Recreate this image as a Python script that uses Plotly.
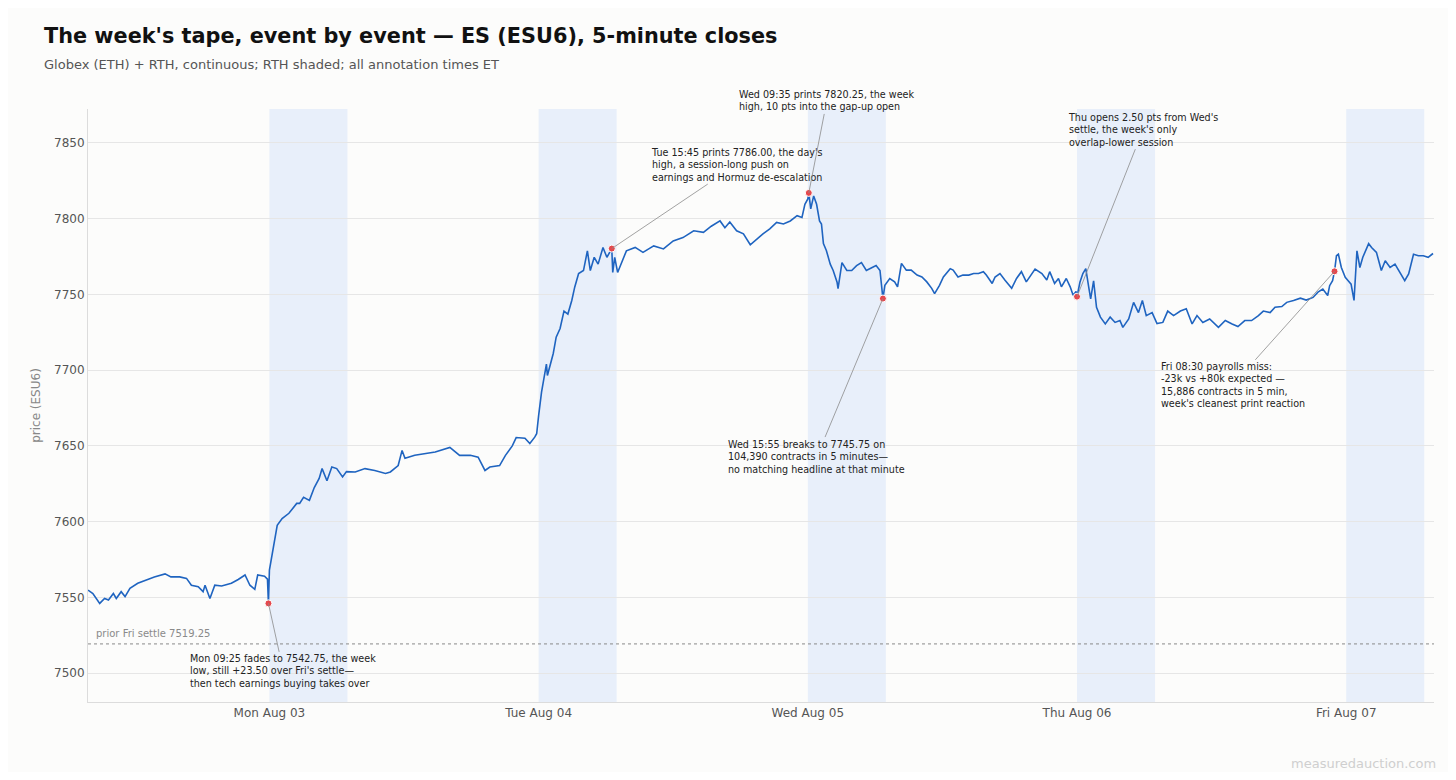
import plotly.graph_objects as go

YEAR = "2026-"

mon_t = ["08-02 18:00", "08-02 18:25", "08-02 19:00", "08-02 19:25", "08-02 19:45", "08-02 20:10",
         "08-02 20:25", "08-02 20:50", "08-02 21:10", "08-02 21:35", "08-02 22:15", "08-02 23:00",
         "08-02 23:40", "08-03 00:35", "08-03 01:05", "08-03 01:50", "08-03 02:25", "08-03 02:50",
         "08-03 03:25", "08-03 03:50", "08-03 04:00", "08-03 04:25", "08-03 04:50", "08-03 05:25",
         "08-03 06:15", "08-03 06:50", "08-03 07:25", "08-03 07:50", "08-03 08:15", "08-03 08:30",
         "08-03 09:05", "08-03 09:20",
         "08-03 09:25", "08-03 09:30", "08-03 09:40", "08-03 09:55",
         "08-03 10:10", "08-03 10:35", "08-03 11:10", "08-03 11:50", "08-03 12:05", "08-03 12:25",
         "08-03 12:55", "08-03 13:20", "08-03 13:45", "08-03 14:00", "08-03 14:25", "08-03 14:50",
         "08-03 15:15", "08-03 15:45", "08-03 16:05", "08-03 16:50"]
mon_c = [7554.75, 7552.5, 7546.0, 7549.25, 7548.25, 7552.5,
         7549.25, 7553.75, 7550.5, 7556.0, 7559.25, 7561.5,
         7563.5, 7565.5, 7563.5, 7563.5, 7562.5, 7558.0,
         7557.0, 7553.75, 7558.0, 7549.25, 7558.0, 7557.5,
         7559.25, 7561.75, 7564.75, 7558.0, 7555.25, 7564.75,
         7564.0, 7562.0,
         7546.0, 7568.0, 7575.75, 7587.75,
         7597.5, 7602.0, 7605.5, 7612.0, 7612.0, 7616.0,
         7614.0, 7622.5, 7628.5, 7635.0, 7627.0, 7636.0,
         7635.0, 7629.5, 7633.0, 7632.75]

tue_t = ["08-03 18:40", "08-03 19:30", "08-03 20:25", "08-03 20:50", "08-03 21:30", "08-03 21:50",
         "08-03 22:05", "08-03 22:55", "08-03 23:45", "08-04 00:40", "08-04 01:55", "08-04 02:45",
         "08-04 03:40", "08-04 04:20", "08-04 04:55", "08-04 05:20", "08-04 06:10", "08-04 06:40",
         "08-04 07:15", "08-04 07:35", "08-04 08:20", "08-04 08:45", "08-04 09:10", "08-04 09:20",
         "08-04 09:30", "08-04 09:45", "08-04 10:10", "08-04 10:15", "08-04 10:45", "08-04 11:00",
         "08-04 11:20", "08-04 11:40", "08-04 12:00", "08-04 12:20", "08-04 12:35", "08-04 12:55",
         "08-04 13:20", "08-04 13:40", "08-04 13:55", "08-04 14:15", "08-04 14:35", "08-04 15:00",
         "08-04 15:20", "08-04 15:45", "08-04 15:50", "08-04 16:00", "08-04 16:15", "08-04 16:35"]
tue_c = [7635.0, 7633.75, 7631.75, 7632.75, 7637.0, 7647.0,
         7641.75, 7643.75, 7645.0, 7646.0, 7649.0, 7643.75,
         7643.75, 7642.5, 7633.75, 7636.0, 7637.0, 7643.75,
         7650.0, 7655.5, 7655.0, 7651.5, 7655.75, 7658.0,
         7670.0, 7685.5, 7704.0, 7696.5, 7711.0, 7721.75,
         7727.5, 7739.0, 7737.0, 7746.0, 7754.75, 7763.75,
         7765.75, 7778.75, 7765.75, 7774.5, 7770.0, 7781.0,
         7774.5, 7780.25, 7764.5, 7774.5, 7764.5, 7771.0]

wed_t = ["08-04 18:00", "08-04 18:45", "08-04 19:25", "08-04 20:20", "08-04 21:10", "08-04 22:00",
         "08-04 22:50", "08-04 23:45", "08-05 00:35", "08-05 01:15", "08-05 02:00", "08-05 02:25",
         "08-05 02:50", "08-05 03:25", "08-05 04:00", "08-05 04:35", "08-05 05:10", "08-05 05:40",
         "08-05 06:15", "08-05 06:50", "08-05 07:25", "08-05 08:00", "08-05 08:35", "08-05 09:00",
         "08-05 09:15", "08-05 09:30", "08-05 09:35", "08-05 09:45", "08-05 10:00", "08-05 10:15",
         "08-05 10:30", "08-05 10:40", "08-05 10:50", "08-05 11:05", "08-05 11:25", "08-05 11:40",
         "08-05 12:00", "08-05 12:05", "08-05 12:25", "08-05 12:50", "08-05 13:15", "08-05 13:40",
         "08-05 14:05", "08-05 14:30", "08-05 15:00", "08-05 15:20", "08-05 15:40", "08-05 15:50",
         "08-05 15:55", "08-05 16:05", "08-05 16:30", "08-05 16:55"]
wed_c = [7778.75, 7781.0, 7777.75, 7782.0, 7780.0, 7785.25,
         7787.5, 7792.0, 7791.0, 7795.0, 7798.5, 7794.0,
         7797.75, 7792.0, 7790.0, 7782.75, 7786.75, 7790.0,
         7793.25, 7797.5, 7796.5, 7798.5, 7802.0, 7800.75,
         7809.5, 7813.0, 7817.0, 7806.5, 7815.0, 7809.5,
         7798.5, 7796.5, 7783.5, 7779.0, 7770.0, 7765.75,
         7758.0, 7753.75, 7771.0, 7765.75, 7765.75, 7769.0,
         7771.0, 7765.75, 7767.75, 7769.0, 7765.75, 7750.25,
         7747.25, 7756.0, 7760.5, 7758.25]

thu_t = ["08-05 18:10", "08-05 18:30", "08-05 18:55", "08-05 19:20", "08-05 19:50", "08-05 20:15",
         "08-05 20:40", "08-05 21:05", "08-05 21:20", "08-05 21:45", "08-05 22:05", "08-05 22:40",
         "08-05 22:55", "08-05 23:20", "08-05 23:45", "08-06 00:15", "08-06 00:40", "08-06 01:05",
         "08-06 01:30", "08-06 01:45", "08-06 02:15", "08-06 02:30", "08-06 02:55", "08-06 03:20",
         "08-06 03:55", "08-06 04:20", "08-06 04:45", "08-06 05:10", "08-06 05:55", "08-06 06:30",
         "08-06 06:55", "08-06 07:10", "08-06 07:35", "08-06 07:55", "08-06 08:10", "08-06 08:35",
         "08-06 08:55", "08-06 09:10", "08-06 09:25", "08-06 09:30",
         "08-06 09:45", "08-06 10:00", "08-06 10:15", "08-06 10:30",
         "08-06 10:40", "08-06 10:55", "08-06 11:10", "08-06 11:30", "08-06 11:55", "08-06 12:20",
         "08-06 12:45", "08-06 13:10", "08-06 13:25", "08-06 13:55", "08-06 14:20", "08-06 14:45",
         "08-06 15:05", "08-06 15:25", "08-06 15:55", "08-06 16:20", "08-06 16:50"]
thu_c = [7755.0, 7770.5, 7766.0, 7766.0, 7762.75, 7761.5,
         7758.25, 7754.0, 7750.5, 7756.0, 7761.5, 7767.0,
         7766.0, 7761.5, 7762.75, 7762.75, 7763.75, 7763.75,
         7765.0, 7762.75, 7757.25, 7761.5, 7763.75, 7759.5,
         7754.0, 7760.5, 7765.0, 7758.25, 7766.75, 7763.75,
         7759.5, 7765.0, 7757.25, 7760.5, 7755.0, 7760.5,
         7755.0, 7749.5, 7752.0, 7748.5,
         7758.0, 7763.75, 7767.0, 7754.75,
         7747.0, 7759.0, 7741.5, 7735.0, 7730.5, 7735.0,
         7731.5, 7732.75, 7728.25, 7733.75, 7744.75, 7738.0,
         7746.0, 7736.0, 7738.0, 7730.75, 7731.5]

fri_t = ["08-06 18:15", "08-06 18:45", "08-06 19:20", "08-06 19:50", "08-06 20:20", "08-06 20:45",
         "08-06 21:15", "08-06 21:50", "08-06 22:35", "08-06 23:10", "08-06 23:45", "08-07 00:15",
         "08-07 00:50", "08-07 01:25", "08-07 02:00", "08-07 02:25", "08-07 03:00", "08-07 03:25",
         "08-07 04:00", "08-07 04:25", "08-07 05:00", "08-07 05:35", "08-07 06:05", "08-07 06:40",
         "08-07 07:05", "08-07 07:30", "08-07 07:55", "08-07 08:05", "08-07 08:20", "08-07 08:30",
         "08-07 08:40", "08-07 08:50", "08-07 09:05", "08-07 09:25", "08-07 09:40", "08-07 09:55",
         "08-07 10:10", "08-07 10:25", "08-07 10:40", "08-07 10:55", "08-07 11:25", "08-07 11:40",
         "08-07 12:05", "08-07 12:30", "08-07 12:50", "08-07 13:15", "08-07 13:40", "08-07 14:05",
         "08-07 14:30", "08-07 14:50", "08-07 15:15", "08-07 15:40", "08-07 16:05", "08-07 16:30",
         "08-07 16:55"]
fri_c = [7739.0, 7736.0, 7739.0, 7740.5, 7730.5, 7736.0,
         7731.5, 7733.75, 7728.25, 7732.75, 7730.5, 7728.75,
         7732.75, 7732.75, 7736.0, 7739.0, 7738.0, 7741.5,
         7742.0, 7744.75, 7746.0, 7747.5, 7746.25, 7748.0,
         7751.5, 7753.5, 7749.25, 7755.75, 7759.0, 7765.25,
         7775.5, 7776.5, 7767.75, 7761.25, 7759.0, 7756.75,
         7746.0, 7778.75, 7767.75, 7774.5, 7783.5, 7781.0,
         7777.75, 7765.75, 7772.25, 7767.75, 7770.0, 7764.5,
         7759.0, 7763.5, 7776.5, 7775.5, 7775.5, 7774.5,
         7777.0]

rth_days = ["08-03", "08-04", "08-05", "08-06", "08-07"]
tick_labels = ["Mon Aug 03", "Tue Aug 04", "Wed Aug 05", "Thu Aug 06", "Fri Aug 07"]

prior_settle = 7519.25

event_times = ["08-03 09:25", "08-04 15:45", "08-05 09:35", "08-05 15:55", "08-06 09:30", "08-07 08:30"]
event_closes = [7546.0, 7780.25, 7817.0, 7747.25, 7748.5, 7765.25]
event_notes = [
    "Mon 09:25 fades to 7542.75, the week<br>low, still +23.50 over Fri's settle—<br>then tech earnings buying takes over",
    "Tue 15:45 prints 7786.00, the day's<br>high, a session-long push on<br>earnings and Hormuz de-escalation",
    "Wed 09:35 prints 7820.25, the week<br>high, 10 pts into the gap-up open",
    "Wed 15:55 breaks to 7745.75 on<br>104,390 contracts in 5 minutes—<br>no matching headline at that minute",
    "Thu opens 2.50 pts from Wed's<br>settle, the week's only<br>overlap-lower session",
    "Fri 08:30 payrolls miss:<br>-23k vs +80k expected —<br>15,886 contracts in 5 min,<br>week's cleanest print reaction",
]
# where each note sits relative to its dot, in pixels
note_offsets = [(15, 68), (125, -84), (18, -92), (-66, 158), (66, -167), (-102, 114)]

times = [YEAR + t for t in mon_t + tue_t + wed_t + thu_t + fri_t]
closes = mon_c + tue_c + wed_c + thu_c + fri_c

fig = go.Figure()

# RTH shading
for d in rth_days:
    fig.add_shape(type="rect", xref="x", yref="paper",
                  x0=YEAR + d + " 09:30", x1=YEAR + d + " 16:10", y0=0, y1=1,
                  fillcolor="rgba(59,130,246,0.10)", line_width=0, layer="below")

# prior Friday settle
fig.add_shape(type="line", xref="paper", yref="y", x0=0, x1=1,
              y0=prior_settle, y1=prior_settle,
              line=dict(color="#8a8a8a", width=1, dash="dot"))
fig.add_annotation(xref="paper", yref="y", x=0, y=prior_settle, xshift=6, yshift=3,
                   xanchor="left", yanchor="bottom", showarrow=False,
                   text="prior Fri settle %.2f" % prior_settle,
                   font=dict(size=10, color="#8a8a8a"))

fig.add_trace(go.Scatter(x=times, y=closes, mode="lines",
                         line=dict(color="#1f64c0", width=1.6),
                         hoverinfo="x+y", showlegend=False))

fig.add_trace(go.Scatter(x=[YEAR + t for t in event_times], y=event_closes, mode="markers",
                         marker=dict(size=7, color="#e5484d", line=dict(color="white", width=1)),
                         hoverinfo="skip", showlegend=False))

for t, c, note, (ax, ay) in zip(event_times, event_closes, event_notes, note_offsets):
    fig.add_annotation(x=YEAR + t, y=c, text=note, align="left",
                       showarrow=True, arrowhead=0, arrowwidth=0.8, arrowcolor="#8a8a8a",
                       ax=ax, ay=ay, font=dict(size=9.6, color="#222"))

# subtitle + watermark
fig.add_annotation(xref="paper", yref="paper", x=(42 - 88) / 1346, y=(702 - 65) / 593,
                   xanchor="left", yanchor="middle", showarrow=False,
                   text="Globex (ETH) + RTH, continuous; RTH shaded; all annotation times ET",
                   font=dict(size=13, color="#555"))
fig.add_annotation(xref="paper", yref="paper", x=1, y=(702 - 763) / 593, xshift=4,
                   xanchor="right", yanchor="middle", showarrow=False,
                   text="measuredauction.com", font=dict(size=13, color="#cfcfcf"))

# page body keeps an 8px margin, so the figure is sized to the window minus that
fig.update_layout(
    width=1440, height=764,
    margin=dict(l=80, r=14, t=101, b=70),
    paper_bgcolor="#fcfcfb", plot_bgcolor="#fcfcfb",
    font=dict(family="DejaVu Sans", color="#333"),
    title=dict(text="<b>The week's tape, event by event — ES (ESU6), 5-minute closes</b>",
               font=dict(size=20.8, color="#111"),
               xref="container", yref="container", x=36 / 1440, y=1 - 28 / 764,
               xanchor="left", yanchor="middle"),
    xaxis=dict(type="date",
               range=[YEAR + "08-02 18:00", YEAR + "08-07 17:00"],
               rangebreaks=[dict(bounds=[17, 18], pattern="hour")],
               tickvals=[YEAR + d + " 09:30" for d in rth_days], ticktext=tick_labels,
               showgrid=False, zeroline=False, showline=True, linecolor="#dcdcdc",
               ticks="", tickfont=dict(size=12, color="#555")),
    yaxis=dict(range=[7480.9, 7872.4], tick0=7500, dtick=50,
               gridcolor="#e6e6e6", zeroline=False, showline=True, linecolor="#dcdcdc",
               ticks="", tickfont=dict(size=12, color="#555"),
               title=dict(text="price (ESU6)", font=dict(size=12, color="#888"), standoff=10)),
    hovermode="closest",
)

fig.write_html("out.html")
